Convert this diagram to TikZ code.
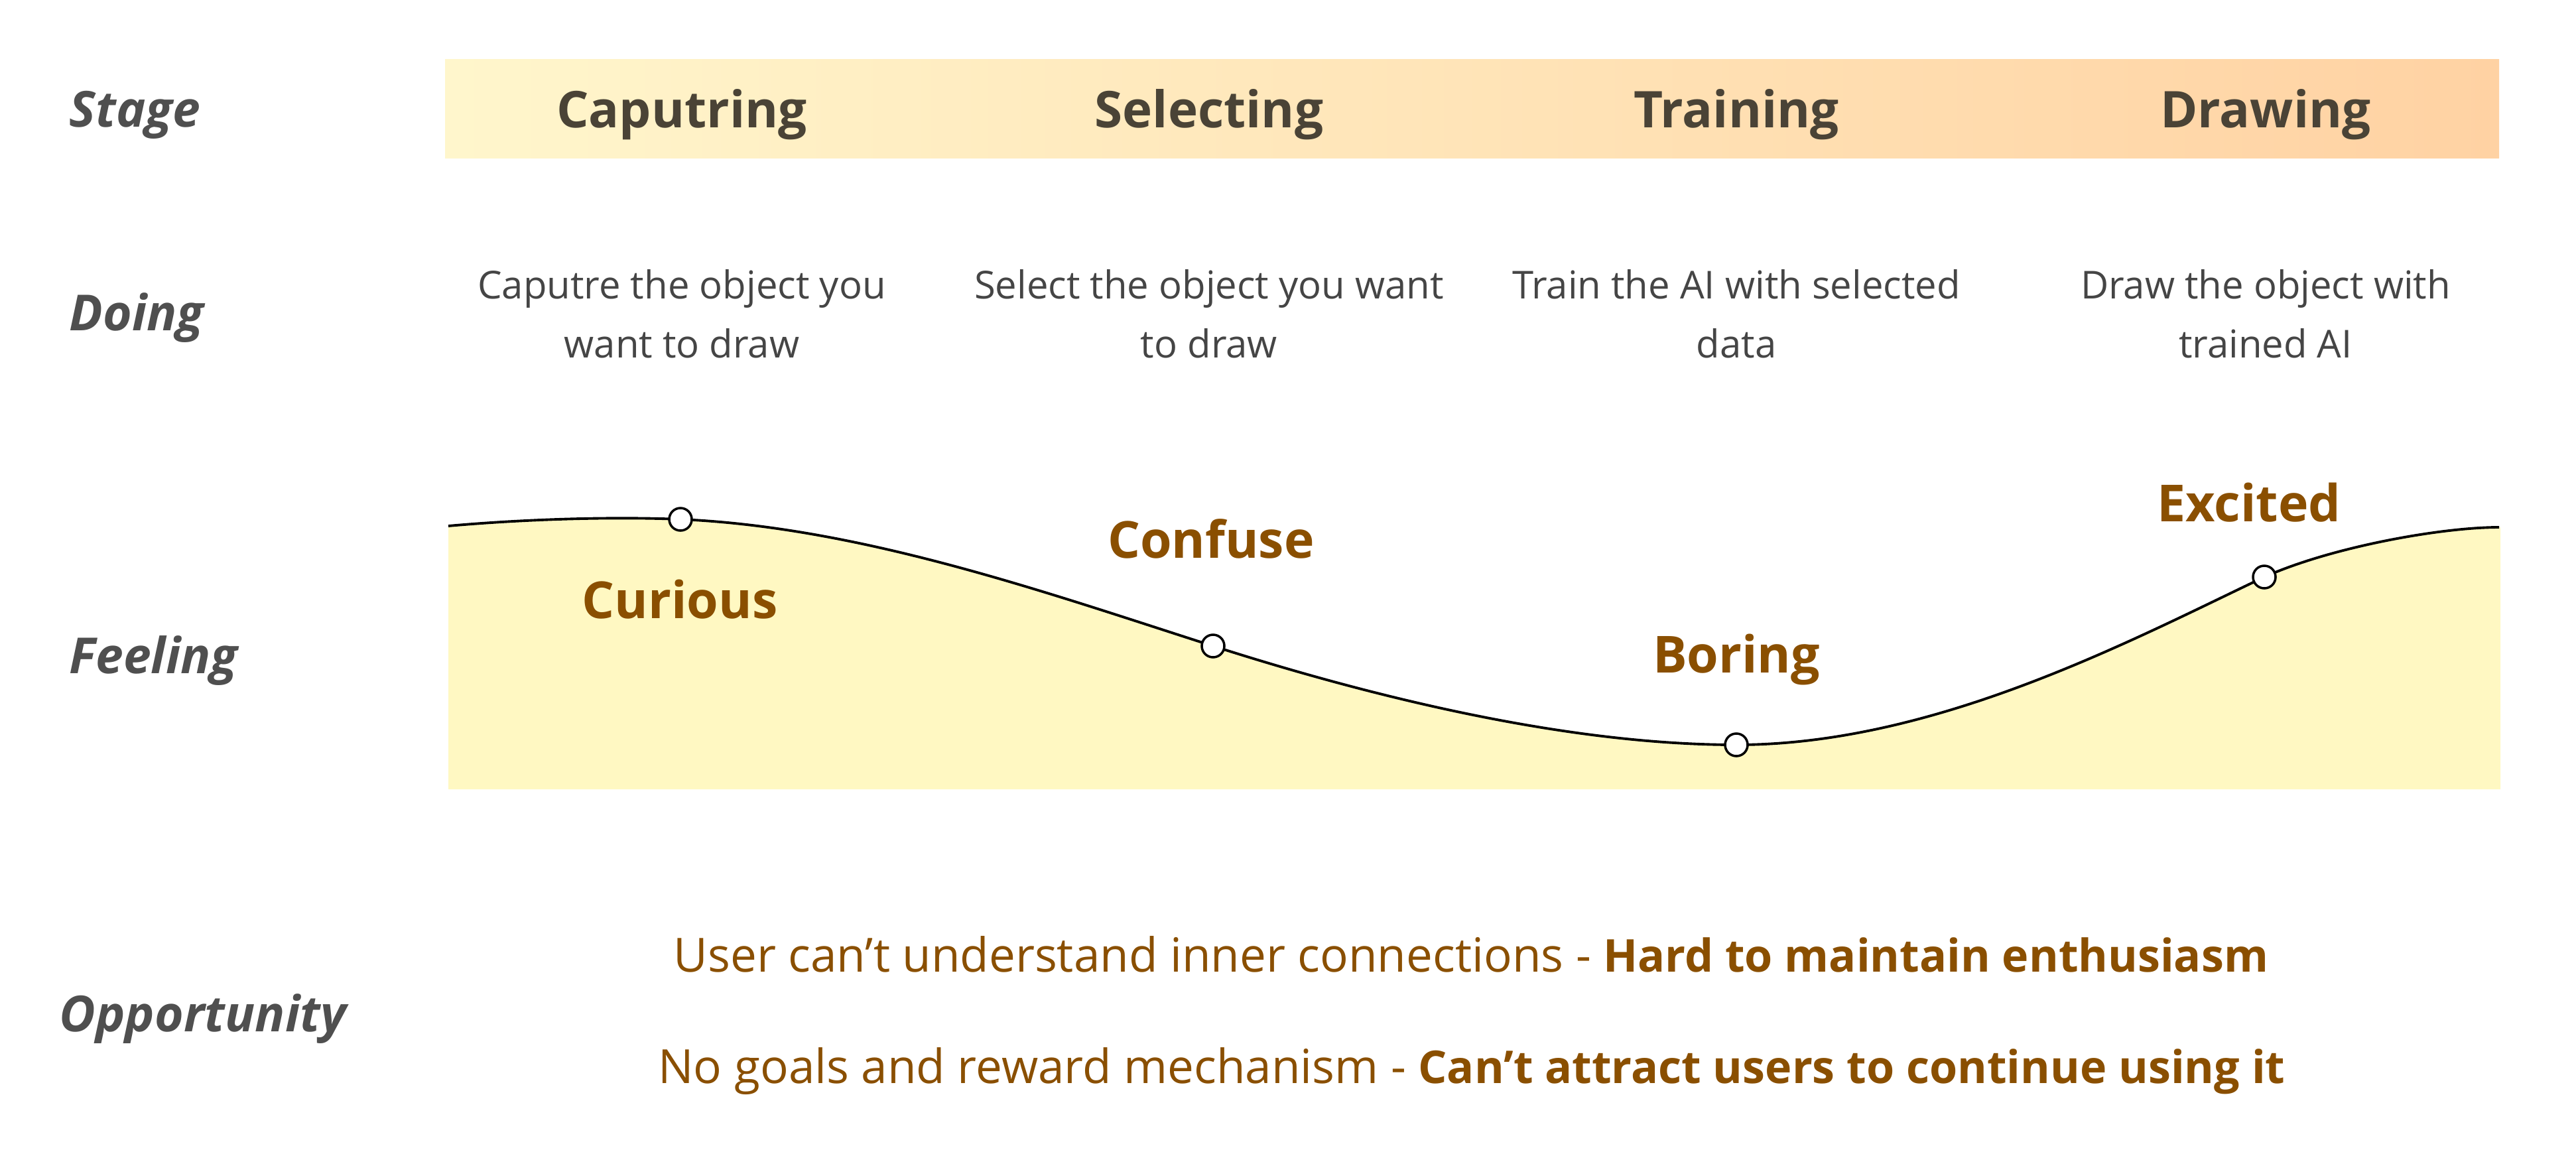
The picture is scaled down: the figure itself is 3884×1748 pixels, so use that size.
\documentclass[tikz,border=0pt]{standalone}
\usepackage{fontspec}
\setmainfont{Open Sans}
\definecolor{rowgray}{HTML}{4F4F4F}
\definecolor{headtxt}{HTML}{4A4336}
\definecolor{doingtxt}{HTML}{454545}
\definecolor{feelbrown}{HTML}{8A4F00}
\definecolor{barleft}{HTML}{FFF6CC}
\definecolor{barright}{HTML}{FFD2A3}
\definecolor{feelfill}{HTML}{FFF8C2}
\newcommand{\oppbf}[1]{{\fontsize{19.4}{24}\selectfont\bfseries #1}}
\tikzset{
  rowlabel/.style={anchor=west, inner sep=0pt, text=rowgray, font=\fontsize{21.3}{27}\selectfont\bfseries\itshape},
  headlabel/.style={inner sep=0pt, text=headtxt, font=\fontsize{21.7}{27}\selectfont\bfseries},
  doinglabel/.style={inner sep=0pt, text=doingtxt, align=center, font=\fontsize{16.5}{25.3}\selectfont},
  feellabel/.style={inner sep=0pt, text=feelbrown, font=\fontsize{21.9}{27}\selectfont\bfseries},
  opplabel/.style={inner sep=0pt, text=feelbrown, font=\fontsize{20.2}{24}\selectfont},
  feeldot/.style={circle, draw=black, fill=white, line width=1pt, minimum size=0.34cm, inner sep=0pt},
  curveline/.style={draw=black, line width=1.1pt}
}
\begin{document}
\begin{tikzpicture}[x=0.01cm, y=-0.01cm]
\path[use as bounding box, fill=white] (0,0) rectangle (3884,1748);

% header bar
\shade[left color=barleft, right color=barright] (671,89) rectangle (3768,238);
\node[headlabel] (h1) at (1028,173) {Caputring};
\node[headlabel] (h2) at (1823,173) {Selecting};
\node[headlabel] (h3) at (2618,173) {Training};
\node[headlabel] (h4) at (3416,173) {Drawing};

% row labels
\node[rowlabel] (rStage) at (104,173) {Stage};
\node[rowlabel] (rDoing) at (104,479) {Doing};
\node[rowlabel] (rFeeling) at (104,996) {Feeling};
\node[rowlabel] (rOpp) at (89,1536) {Opportunity};

% doing
\node[doinglabel] (d1) at (1028,473) {Caputre the object you\\want to draw};
\node[doinglabel] (d2) at (1823,473) {Select the object you want\\to draw};
\node[doinglabel] (d3) at (2618,473) {Train the AI with selected\\data};
\node[doinglabel] (d4) at (3416,473) {Draw the object with\\trained AI};

% feeling curve
\fill[feelfill] (676,793) .. controls (800,782) and (930,779) .. (1026,783)
  .. controls (1300,795) and (1579,894) .. (1829,974)
  .. controls (2079,1054) and (2368,1123) .. (2618,1123)
  .. controls (2918,1123) and (3214,965) .. (3414,870)
  .. controls (3514,825) and (3680,795) .. (3770,795)
  -- (3770,1190) -- (676,1190) -- cycle;
\draw[curveline] (676,793) .. controls (800,782) and (930,779) .. (1026,783)
  .. controls (1300,795) and (1579,894) .. (1829,974)
  .. controls (2079,1054) and (2368,1123) .. (2618,1123)
  .. controls (2918,1123) and (3214,965) .. (3414,870)
  .. controls (3514,825) and (3680,795) .. (3768,795);

\node[feeldot] (p1) at (1026,783) {};
\node[feeldot] (p2) at (1829,974) {};
\node[feeldot] (p3) at (2618,1123) {};
\node[feeldot] (p4) at (3414,870) {};

\node[feellabel] (f1) at (1025,904) {Curious};
\node[feellabel] (f2) at (1826,812) {Confuse};
\node[feellabel] (f3) at (2618,994) {Boring};
\node[feellabel] (f4) at (3391,758) {Excited};

% opportunity
\node[opplabel] (o1) at (2218,1439) {User can’t understand inner connections - \oppbf{Hard to maintain enthusiasm}};
\node[opplabel] (o2) at (2219,1615) {No goals and reward mechanism - \oppbf{Can’t attract users to continue using it}};
\end{tikzpicture}
\end{document}
